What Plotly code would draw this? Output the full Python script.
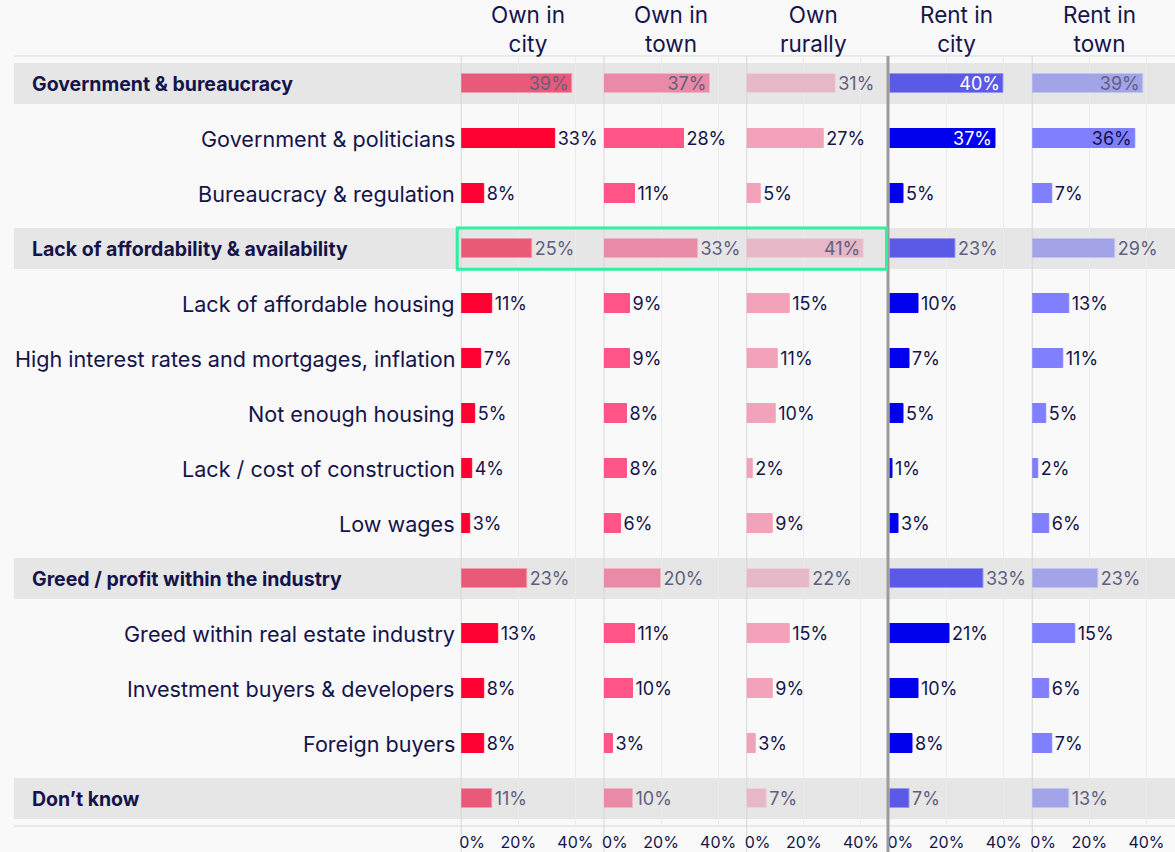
import plotly.graph_objects as go

# ---------------- data ----------------
categories = [
    "Government & bureaucracy",
    "Government & politicians",
    "Bureaucracy & regulation",
    "Lack of affordability & availability",
    "Lack of affordable housing",
    "High interest rates and mortgages, inflation",
    "Not enough housing",
    "Lack / cost of construction",
    "Low wages",
    "Greed / profit within the industry",
    "Greed within real estate industry",
    "Investment buyers & developers",
    "Foreign buyers",
    "Don\u2019t know",
]
header_rows = [
    "Government & bureaucracy",
    "Lack of affordability & availability",
    "Greed / profit within the industry",
    "Don\u2019t know",
]
highlight_row = "Lack of affordability & availability"

series_names = ["Own in<br>city", "Own in<br>town", "Own<br>rurally", "Rent in<br>city", "Rent in<br>town"]
own_city = [39, 33, 8, 25, 11, 7, 5, 4, 3, 23, 13, 8, 8, 11]
own_town = [37, 28, 11, 33, 9, 9, 8, 8, 6, 20, 11, 10, 3, 10]
own_rural = [31, 27, 5, 41, 15, 11, 10, 2, 9, 22, 15, 9, 3, 7]
rent_city = [40, 37, 5, 23, 10, 7, 5, 1, 3, 33, 21, 10, 8, 7]
rent_town = [39, 36, 7, 29, 13, 11, 5, 2, 6, 23, 15, 6, 7, 13]
series_values = [own_city, own_town, own_rural, rent_city, rent_town]

tick_vals = [3.8, 20, 40]
tick_text = ["0%", "20%", "40%"]

# ---------------- style ----------------
W, H = 1175, 852
ML, MR, MT, MB = 0, 0, 56, 26
PH = H - MT - MB
FONT = "Inter"
NAVY = "#14144b"
MUTED = "#60607e"
BG = "#f9f9f9"
BAND = "#e6e6e6"

main_colors = ["#ff0033", "#ff5588", "#f2a3ba", "#0000ee", "#8080ff"]
head_colors = ["#e85a78", "#e98ba6", "#e6b7c6", "#5a5ae6", "#a3a3e8"]
head_lines = ["#f39ab0", "#f2b3c6", "#f0d0da", "#9898f0", "#c4c4f2"]
inside_main_text = [NAVY, NAVY, NAVY, "#ffffff", NAVY]
inside_head_text = [MUTED, MUTED, MUTED, "#ffffff", MUTED]

panel_left = [460, 603, 746, 889, 1032]
panel_w = 143

fig = go.Figure()
for i, (name, vals) in enumerate(zip(series_names, series_values)):
    hdr = [c in header_rows for c in categories]
    colors = [head_colors[i] if h else main_colors[i] for h in hdr]
    lcolors = [head_lines[i] if h else main_colors[i] for h in hdr]
    positions = ["inside" if v >= 35 else "outside" for v in vals]
    tcolors = []
    for h, p in zip(hdr, positions):
        if p == "inside":
            tcolors.append(inside_head_text[i] if h else inside_main_text[i])
        else:
            tcolors.append(MUTED if h else NAVY)
    ax = "" if i == 0 else str(i + 1)
    fig.add_trace(go.Bar(
        x=vals, y=categories, orientation="h",
        xaxis="x" + ax, yaxis="y",
        width=0.34,
        marker=dict(color=colors, line=dict(color=lcolors, width=1)),
        text=[f"{v}%" for v in vals],
        textposition=positions,
        insidetextanchor="end",
        textfont=dict(family=FONT, size=18, color=tcolors),
        constraintext="none",
        cliponaxis=False,
        showlegend=False,
        hoverinfo="skip",
        name=name.replace("<br>", " "),
    ))

layout = dict(
    width=W, height=H,
    margin=dict(l=ML, r=MR, t=MT, b=MB),
    paper_bgcolor=BG, plot_bgcolor="rgba(0,0,0,0)",
    bargap=0, showlegend=False,
    font=dict(family=FONT, color=NAVY),
    yaxis=dict(type="category", categoryorder="array", categoryarray=categories,
               range=[len(categories) - 0.5, -0.5], showticklabels=False,
               showgrid=False, zeroline=False, fixedrange=True),
)
for i in range(5):
    key = "xaxis" if i == 0 else f"xaxis{i+1}"
    x0 = (panel_left[i] - ML) / (W - ML - MR)
    x1 = min(1.0, (panel_left[i] + panel_w - ML) / (W - ML - MR))
    layout[key] = dict(
        domain=[x0, x1], anchor="y", range=[0, 50],
        tickmode="array", tickvals=tick_vals, ticktext=tick_text,
        tickfont=dict(family=FONT, size=16, color=NAVY),
        showgrid=False, zeroline=False, showline=False, ticks="",
        ticklabelstandoff=5,
        minor=dict(tickmode="array", tickvals=[20, 40], showgrid=True,
                   gridcolor="#ebebeb", gridwidth=1, ticks=""),
        fixedrange=True,
    )
fig.update_layout(**layout)

shapes = []
# grey bands for group headers
for c in header_rows:
    idx = categories.index(c)
    shapes.append(dict(type="rect", layer="below", xref="paper", yref="y",
                       x0=12 / W, x1=1, y0=idx - 0.373, y1=idx + 0.373,
                       fillcolor=BAND, line=dict(width=0)))
# horizontal top / bottom rules
for yy in [0, 1]:
    shapes.append(dict(type="line", layer="below", xref="paper", yref="paper",
                       x0=12 / W, x1=1, y0=yy, y1=yy,
                       line=dict(color="#d9d9d9", width=1)))
# panel separators
ybot = -MB / PH
for px in [460, 603, 746, 1032]:
    shapes.append(dict(type="line", layer="below", xref="paper", yref="paper",
                       x0=px / W, x1=px / W, y0=ybot, y1=1,
                       line=dict(color="#d6d6d6", width=1)))
shapes.append(dict(type="line", layer="above", xref="paper", yref="paper",
                   x0=887.5 / W, x1=887.5 / W, y0=ybot, y1=1,
                   line=dict(color="#9c9c9c", width=3)))
# highlight box
hi = categories.index(highlight_row)
shapes.append(dict(type="rect", layer="above", xref="paper", yref="y",
                   x0=456 / W, x1=886 / W, y0=hi - 0.375, y1=hi + 0.375,
                   line=dict(color="#2ef0a0", width=3), fillcolor="rgba(0,0,0,0)"))
fig.update_layout(shapes=shapes)

annotations = []
for c in categories:
    if c in header_rows:
        annotations.append(dict(text=f"<b>{c}</b>", xref="paper", yref="y",
                                x=28 / W, y=c, xanchor="left", yanchor="middle",
                                showarrow=False,
                                font=dict(family=FONT, size=19.5, color=NAVY)))
    else:
        annotations.append(dict(text=c, xref="paper", yref="y",
                                x=456 / W, y=c, xanchor="right", yanchor="middle",
                                showarrow=False,
                                font=dict(family=FONT, size=21.6, color=NAVY)))
for i, name in enumerate(series_names):
    ax = "x" if i == 0 else f"x{i+1}"
    annotations.append(dict(text=name, xref=f"{ax} domain", yref="paper",
                            x=0.47, y=1, xanchor="center", yanchor="bottom",
                            yshift=-3, showarrow=False,
                            font=dict(family=FONT, size=22.5, color=NAVY)))
fig.update_layout(annotations=annotations)

fig.write_html("out.html", config={"displayModeBar": False},
               post_script="document.body.style.margin='0px';")
